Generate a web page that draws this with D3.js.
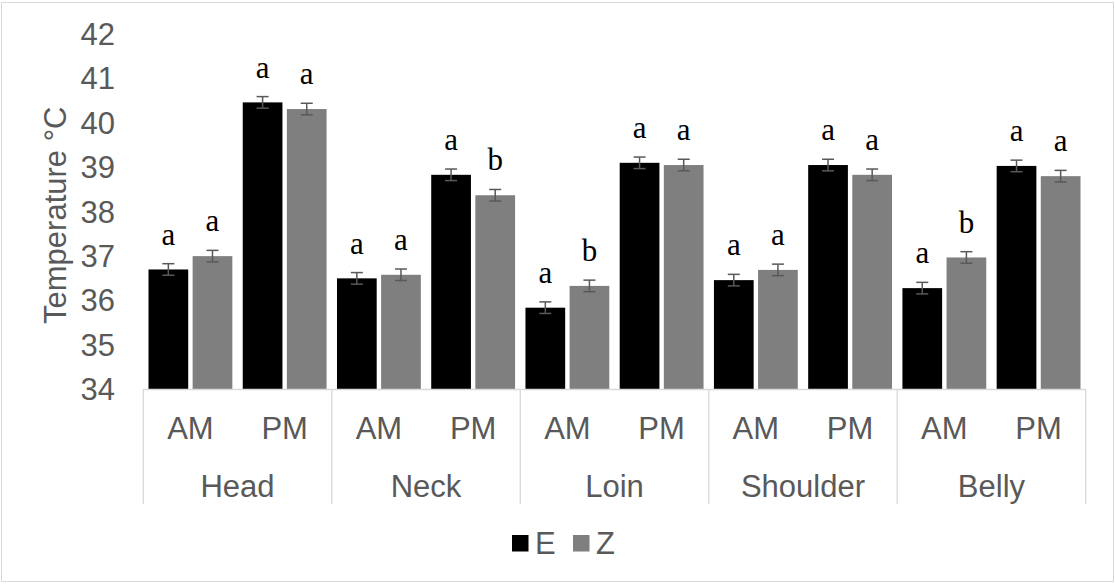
<!DOCTYPE html>
<html>
<head>
<meta charset="utf-8">
<script src="https://cdn.jsdelivr.net/npm/d3@7"></script>
<style>
  html, body { margin: 0; padding: 0; background: #fff; }
  svg { display: block; }
</style>
</head>
<body>
<svg id="chart" width="1115" height="584"></svg>
<script>
// Body-region surface temperature by session (AM / PM) for groups E and Z
const regions = ["Head", "Neck", "Loin", "Shoulder", "Belly"];
const sessions = ["AM", "PM"];
const seriesNames = ["E", "Z"];
const seriesColors = ["#000000", "#7f7f7f"];

// values in region order, AM then PM within each region
const valuesE = [36.69, 40.45, 36.49, 38.82, 35.83, 39.09, 36.45, 39.04, 36.27, 39.02];
const valuesZ = [36.99, 40.30, 36.57, 38.36, 36.32, 39.04, 36.68, 38.82, 36.96, 38.79];
const errorsE = [0.13, 0.13, 0.13, 0.13, 0.13, 0.13, 0.13, 0.13, 0.13, 0.13];
const errorsZ = [0.13, 0.13, 0.13, 0.13, 0.13, 0.13, 0.13, 0.13, 0.13, 0.13];
const lettersE = ["a", "a", "a", "a", "a", "a", "a", "a", "a", "a"];
const lettersZ = ["a", "a", "a", "b", "b", "a", "a", "a", "b", "a"];
const yTicks = [34, 35, 36, 37, 38, 39, 40, 41, 42];
const yTitle = "Temperature °C";

const svg = d3.select("#chart");
const W = 1115, H = 584;
const gridColor = "#d9d9d9";
const textColor = "#595959";
const sansFont = "'Liberation Sans', Arial, sans-serif";
const serifFont = "'Liberation Serif', 'Times New Roman', serif";
const fontSize = 31;

// outer chart frame
svg.append("rect")
  .attr("x", 1.5).attr("y", 2.5)
  .attr("width", W - 3).attr("height", H - 5)
  .attr("fill", "#fff").attr("stroke", gridColor).attr("stroke-width", 1);

const plot = { left: 143.3, right: 1085.7, top: 33.5, bottom: 389 };

const y = d3.scaleLinear().domain([34, 42]).range([plot.bottom, plot.top]);
const xRegion = d3.scaleBand().domain(regions).range([plot.left, plot.right]).padding(0);
const xSession = d3.scaleBand().domain(sessions).range([0, xRegion.bandwidth()]).padding(0);
const xSeries = d3.scaleBand().domain(seriesNames)
  .range([5.2, xSession.bandwidth() - 5.2]).paddingInner(0.1).paddingOuter(0);

// flatten into one record per bar
const bars = [];
regions.forEach((r, ri) => {
  sessions.forEach((s, si) => {
    const idx = ri * sessions.length + si;
    [[valuesE, errorsE, lettersE], [valuesZ, errorsZ, lettersZ]].forEach((arr, k) => {
      bars.push({
        region: r, session: s, series: seriesNames[k],
        value: arr[0][idx], err: arr[1][idx], letter: arr[2][idx]
      });
    });
  });
});
const barX = d => xRegion(d.region) + xSession(d.session) + xSeries(d.series);
const color = d3.scaleOrdinal().domain(seriesNames).range(seriesColors);

// y axis tick labels (no axis line)
const yAxis = d3.axisLeft(y).tickValues(yTicks).tickSize(0).tickPadding(0).tickFormat(d3.format("d"));
const yg = svg.append("g").attr("transform", "translate(115,0)").call(yAxis);
yg.select(".domain").remove();
yg.selectAll("text")
  .attr("font-family", sansFont).attr("font-size", fontSize)
  .attr("fill", textColor).attr("dy", "0.35em");

svg.append("text")
  .attr("transform", `translate(${55},${(plot.top + plot.bottom) / 2 + 4}) rotate(-90)`)
  .attr("text-anchor", "middle").attr("dy", "0.35em")
  .attr("font-family", sansFont).attr("font-size", fontSize).attr("fill", textColor)
  .text(yTitle);

// bars
svg.append("g").selectAll("rect").data(bars).join("rect")
  .attr("x", barX)
  .attr("y", d => y(d.value))
  .attr("width", xSeries.bandwidth())
  .attr("height", d => y(34) - y(d.value))
  .attr("fill", d => color(d.series));

// error bars
const capHalf = 6;
const eg = svg.append("g").attr("stroke", "#595959").attr("stroke-width", 1.5);
bars.forEach(d => {
  const cx = barX(d) + xSeries.bandwidth() / 2;
  const y1 = y(d.value + d.err), y2 = y(d.value - d.err);
  eg.append("line").attr("x1", cx).attr("x2", cx).attr("y1", y1).attr("y2", y2);
  eg.append("line").attr("x1", cx - capHalf).attr("x2", cx + capHalf).attr("y1", y1).attr("y2", y1);
  eg.append("line").attr("x1", cx - capHalf).attr("x2", cx + capHalf).attr("y1", y2).attr("y2", y2);
});

// significance letters
svg.append("g").selectAll("text").data(bars).join("text")
  .attr("x", d => barX(d) + xSeries.bandwidth() / 2)
  .attr("y", d => y(d.value + d.err) - 19)
  .attr("text-anchor", "middle")
  .attr("font-family", serifFont).attr("font-size", fontSize).attr("fill", "#000")
  .text(d => d.letter);

// category axis: baseline and region separators
const ax = svg.append("g").attr("stroke", gridColor).attr("stroke-width", 1.3);
ax.append("line").attr("x1", plot.left).attr("x2", plot.right)
  .attr("y1", plot.bottom + 0.5).attr("y2", plot.bottom + 0.5);
const sepBottom = 504;
regions.forEach(r => {
  const xx = xRegion(r);
  ax.append("line").attr("x1", xx).attr("x2", xx).attr("y1", plot.bottom).attr("y2", sepBottom);
});
ax.append("line").attr("x1", plot.right).attr("x2", plot.right).attr("y1", plot.bottom).attr("y2", sepBottom);

// session labels
const sessLabels = [];
regions.forEach(r => sessions.forEach(s => sessLabels.push({ r, s })));
svg.append("g").selectAll("text").data(sessLabels).join("text")
  .attr("x", d => xRegion(d.r) + xSession(d.s) + xSession.bandwidth() / 2)
  .attr("y", 428).attr("dy", "0.35em").attr("text-anchor", "middle")
  .attr("font-family", sansFont).attr("font-size", fontSize).attr("fill", textColor)
  .text(d => d.s);

// region labels
svg.append("g").selectAll("text").data(regions).join("text")
  .attr("x", d => xRegion(d) + xRegion.bandwidth() / 2)
  .attr("y", 486).attr("dy", "0.35em").attr("text-anchor", "middle")
  .attr("font-family", sansFont).attr("font-size", fontSize).attr("fill", textColor)
  .text(d => d);

// legend
const legend = svg.append("g");
const legendX = [512, 573];
seriesNames.forEach((name, i) => {
  legend.append("rect")
    .attr("x", legendX[i]).attr("y", 535).attr("width", 16.5).attr("height", 16.5)
    .attr("fill", seriesColors[i]);
  legend.append("text")
    .attr("x", legendX[i] + 23).attr("y", 543).attr("dy", "0.35em")
    .attr("font-family", sansFont).attr("font-size", fontSize).attr("fill", textColor)
    .text(name);
});
</script>
</body>
</html>
